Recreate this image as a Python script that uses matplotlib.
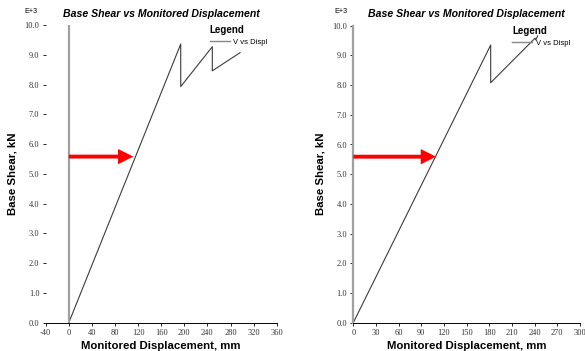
import matplotlib
matplotlib.use("Agg")
import matplotlib.pyplot as plt

plt.rcParams["axes.unicode_minus"] = False

# pushover curves, shear in E+3 kN
left_disp = [0, 193.8, 193.8, 248.5, 248.5, 296.5]
left_shear = [0, 9.36, 7.93, 9.27, 8.46, 9.07]
right_disp = [0, 181.8, 181.8, 240.5, 241.5, 244.0]
right_shear = [0, 9.35, 8.08, 9.58, 9.52, 9.66]

# red markers: level and where they hit the curve
left_arrow = (111.7, 5.58)
right_arrow = (109.4, 5.59)

left_xticks = list(range(-40, 361, 40))
right_xticks = list(range(0, 301, 30))
yticks = [0, 1, 2, 3, 4, 5, 6, 7, 8, 9, 10]

title = "Base Shear vs Monitored Displacement"
line_col = "#3c3c3c"
axis_gray = "#a0a0a0"

fig = plt.figure(figsize=(5.85, 3.51), dpi=100)
ax1 = fig.add_axes([45.7 / 585, 28.3 / 351, 231 / 585, 297.7 / 351])
ax2 = fig.add_axes([353.3 / 585, 28.3 / 351, 226.7 / 585, 297.0 / 351])


def setup(ax, disp, shear, xticks, arrow, left_spine, leg_x):
    ax.plot(disp, shear, color=line_col, lw=0.8, label="V vs Displ")
    ax.set_xlim(xticks[0], xticks[-1])
    ax.set_ylim(0, 10)
    ax.set_xticks(xticks)
    ax.set_yticks(yticks)
    ax.set_yticklabels([f"{v:.1f}" for v in yticks])
    for s in ["top", "right"]:
        ax.spines[s].set_visible(False)
    ax.spines["bottom"].set_linewidth(0.7)
    if left_spine:
        ax.spines["left"].set_color(axis_gray)
        ax.spines["left"].set_linewidth(1.6)
    else:
        ax.spines["left"].set_visible(False)
        ax.plot([0, 0], [0, 9.95], color=axis_gray, lw=1.6)
    ax.tick_params(direction="out", length=2.5, width=0.6, pad=2,
                   labelsize=6)
    for lab in ax.get_xticklabels() + ax.get_yticklabels():
        lab.set_family("Liberation Serif")
        lab.set_color("#333333")
    ax.set_xlabel("Monitored Displacement, mm", fontsize=8.2,
                  fontweight="bold", family="Liberation Sans", labelpad=3)
    ax.set_ylabel("Base Shear, kN", fontsize=8.2, fontweight="bold",
                  family="Liberation Sans", labelpad=5)
    ax.set_title(title, fontsize=7.6, fontweight="bold", style="italic",
                 family="Liberation Sans", pad=6)
    ax.text(-0.065 if not left_spine else -0.055, 1.035, "E+3",
            transform=ax.transAxes, fontsize=5.2, family="Liberation Sans",
            ha="center", va="bottom")
    ax.annotate("", xy=arrow, xytext=(0, arrow[1]),
                arrowprops=dict(width=2.8, headwidth=11, headlength=11,
                                facecolor="red", edgecolor="none", shrink=0))
    leg = ax.legend(loc="upper left", frameon=False, title="Legend",
                    fontsize=5.5, handlelength=2.6, handletextpad=0.5,
                    borderpad=0, borderaxespad=0, alignment="left",
                    bbox_to_anchor=(leg_x, 1.0))
    leg.get_title().set_fontweight("bold")
    leg.get_title().set_fontsize(7)
    leg.get_title().set_family("Liberation Sans")
    for t in leg.get_texts():
        t.set_family("Liberation Sans")
    leg.get_lines()[0].set_color("#888888")
    leg.get_lines()[0].set_linewidth(1.0)


setup(ax1, left_disp, left_shear, left_xticks, left_arrow, False, 0.71)
setup(ax2, right_disp, right_shear, right_xticks, right_arrow, True, 0.70)

fig.savefig("out.png", dpi=100)
